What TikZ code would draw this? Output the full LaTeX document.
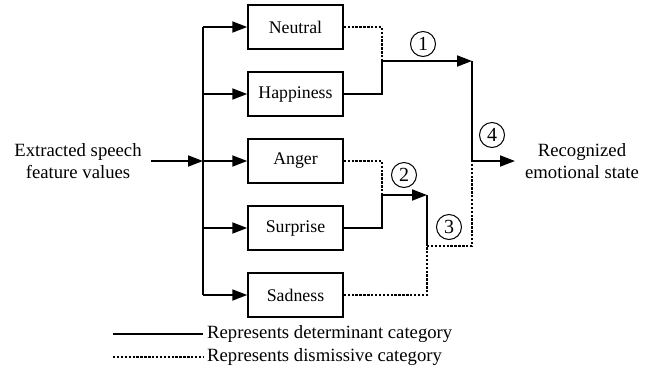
\documentclass[tikz,border=0pt]{standalone}
\usepackage{fontspec}
\setmainfont{Liberation Serif}
\usetikzlibrary{arrows.meta}
\begin{document}
\begin{tikzpicture}[x=1pt,y=-1pt,
  every node/.style={font=\fontsize{18.7}{22}\selectfont},
  catbox/.style={draw,line width=1.5pt,minimum width=95pt,minimum height=44pt,inner sep=0pt,font=\fontsize{17.8}{20}\selectfont},
  solidln/.style={line width=1.8pt},
  dotln/.style={line width=1.9pt,dash pattern=on 2.4pt off 1.5pt},
  arr/.style={solidln,-{Triangle[length=15pt,width=11pt]}},
  num/.style={draw,circle,line width=1pt,minimum size=25pt,inner sep=0pt,font=\fontsize{20}{20}\selectfont},
  txt/.style={align=center,inner sep=0pt}]
\useasboundingbox (0,0) rectangle (657,376);

% category boxes
\node[catbox] (neu) at (295.5,27) {Neutral};
\node[catbox] (hap) at (295.5,94) {Happiness};
\node[catbox] (ang) at (295.5,161) {Anger};
\node[catbox] (sur) at (295.5,228) {Surprise};
\node[catbox] (sad) at (295.5,295) {Sadness};

% input and output texts
\node[txt] (in) at (78,161) {Extracted speech\\feature values};
\node[txt] (out) at (582,161) {Recognized\\emotional state};

% distribution bus
\coordinate (bin) at (203,161);
\coordinate (btop) at (203,27);
\coordinate (bbot) at (203,295);
\draw[solidln] (btop) -- (bbot);
\draw[arr] (151,161) -- (bin);
\foreach \b in {neu,hap,ang,sur,sad}
  \draw[arr] (btop |- \b.west) -- (\b.west);

% stage 1: Neutral vs Happiness
\coordinate (j1) at (382,61);
\coordinate (m1) at (472,61);
\draw[dotln] (neu.east) -| (j1);
\draw[arr] (hap.east) -| (j1) -- (m1);
\node[num] (n1) at (423,44) {1};

% stage 2: Anger vs Surprise
\coordinate (j2) at (382,195);
\coordinate (m2) at (427,195);
\draw[dotln] (ang.east) -| (j2);
\draw[arr] (sur.east) -| (j2) -- (m2);
\node[num] (n2) at (404,175) {2};

% stage 3: merge with Sadness
\coordinate (m3) at (427,246);
\coordinate (m4) at (472,246);
\draw[solidln] (m2) -- (m3);
\draw[dotln] (sad.east) -| (m3);
\draw[dotln] (m3) -- (m4) -- (472,161);
\node[num] (n3) at (449,227) {3};

% stage 4: final decision
\coordinate (m5) at (472,161);
\draw[solidln] (m1) -- (m5);
\draw[arr] (m5) -- (515,161);
\node[num] (n4) at (492,135) {4};

% legend
\coordinate (l1a) at (113,334);
\coordinate (l1b) at (203,334);
\coordinate (l2a) at (113,357);
\coordinate (l2b) at (203,357);
\draw[solidln] (l1a) -- (l1b);
\draw[dotln] (l2a) -- (l2b);
\node[anchor=west,inner sep=0pt] (lg1) at (207,334) {Represents determinant category};
\node[anchor=west,inner sep=0pt] (lg2) at (207,357) {Represents dismissive category};
\end{tikzpicture}
\end{document}
